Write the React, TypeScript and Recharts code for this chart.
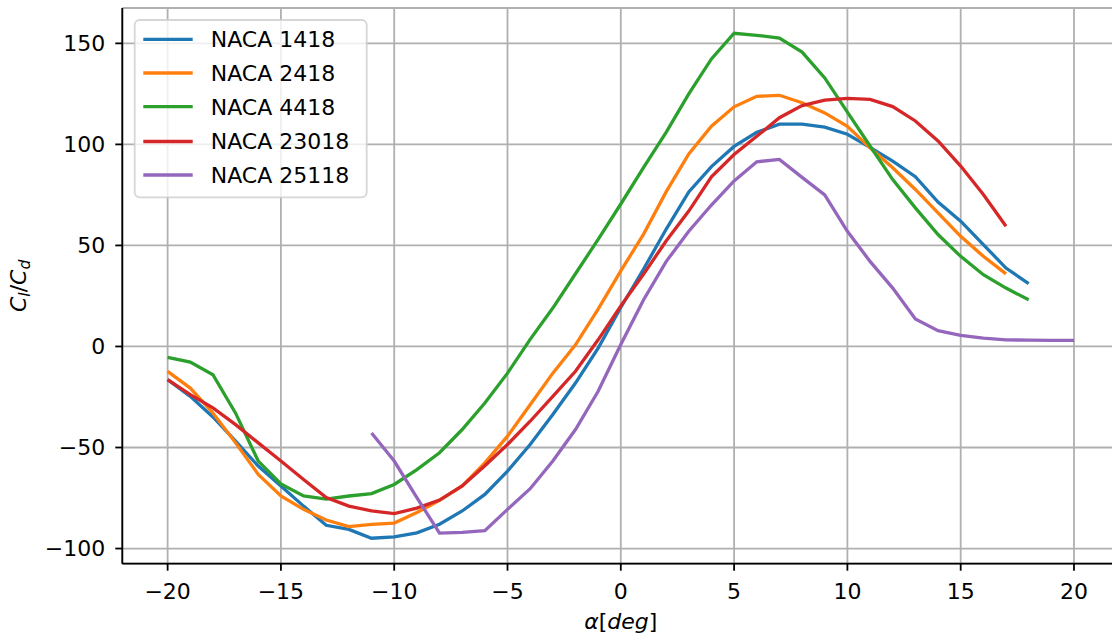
import React from 'react';
import { LineChart, Line, XAxis, YAxis, CartesianGrid } from 'recharts';

const alpha = [-20, -19, -18, -17, -16, -15, -14, -13, -12, -11, -10, -9, -8, -7, -6, -5, -4, -3, -2, -1, 0, 1, 2, 3, 4, 5, 6, 7, 8, 9, 10, 11, 12, 13, 14, 15, 16, 17, 18, 19, 20];

const naca1418 = [-16.4, -24.7, -34.9, -46.9, -59.2, -69.0, -79.0, -88.5, -90.5, -94.9, -94.2, -92.2, -88.0, -81.4, -73.2, -61.7, -48.5, -33.7, -18.1, -0.8, 19.3, 38.2, 58.0, 76.5, 89.0, 99.0, 106.0, 110.0, 110.0, 108.5, 105.0, 98.5, 91.7, 84.0, 71.5, 62.0, 50.4, 38.8, 31.1, null, null];
const naca2418 = [-12.3, -20.6, -32.9, -47.7, -63.3, -74.0, -80.6, -85.9, -89.1, -88.0, -87.4, -82.2, -76.2, -69.0, -57.6, -44.4, -28.8, -13.2, 0.8, 18.5, 37.4, 55.5, 76.5, 95.3, 109.0, 118.6, 123.8, 124.3, 120.6, 115.6, 109.0, 98.3, 88.4, 77.7, 66.1, 54.5, 44.6, 35.9, null, null, null];
const naca4418 = [-5.4, -7.7, -14.0, -33.0, -56.7, -68.0, -74.0, -75.5, -74.0, -72.8, -68.3, -60.9, -52.6, -41.1, -28.0, -13.2, 3.5, 19.0, 36.0, 53.0, 70.5, 88.5, 106.0, 125.0, 142.3, 155.0, 154.0, 152.6, 145.7, 132.9, 116.0, 99.2, 82.6, 68.6, 55.4, 44.6, 35.5, 28.9, 23.1, null, null];
const naca23018 = [-16.4, -23.8, -30.4, -38.7, -47.7, -56.7, -65.8, -74.8, -79.0, -81.4, -82.7, -80.0, -76.0, -69.0, -59.0, -48.5, -37.0, -24.7, -12.3, 3.3, 20.1, 35.7, 52.2, 67.0, 84.0, 95.0, 104.0, 113.2, 119.2, 121.9, 122.8, 122.3, 118.7, 111.6, 101.7, 89.3, 75.2, 59.5, null, null, null];
const naca25118 = [null, null, null, null, null, null, null, null, null, -42.8, -56.7, -74.8, -92.4, -92.0, -91.2, -80.6, -70.4, -56.7, -41.1, -22.2, 1.0, 23.0, 42.0, 57.0, 70.0, 81.9, 91.4, 92.6, 83.7, 75.0, 57.0, 42.1, 28.9, 13.6, 7.8, 5.5, 4.1, 3.3, 3.1, 3.0, 3.0];

const seriesNames = ['NACA 1418', 'NACA 2418', 'NACA 4418', 'NACA 23018', 'NACA 25118'];
const seriesValues = [naca1418, naca2418, naca4418, naca23018, naca25118];
const seriesColors = ['#1f77b4', '#ff7f0e', '#2ca02c', '#d62728', '#9467bd'];

const xTicks = [-20, -15, -10, -5, 0, 5, 10, 15, 20];
const yTicks = [-100, -50, 0, 50, 100, 150];

const data = alpha.map((a, i) => {
  const row: Record<string, number | null> = { alpha: a };
  seriesNames.forEach((n, k) => {
    row[n] = seriesValues[k][i];
  });
  return row;
});

const FONT = 'DejaVu Sans';
const fmt = (v: number) => (v < 0 ? `\u2212${Math.abs(v)}` : `${v}`);

const XLabel = (props: any) => {
  const vb = props.viewBox || {};
  const cx = vb.x + vb.width / 2;
  const y = vb.y + 64.8;
  return (
    <text x={cx} y={y} textAnchor="middle" fontFamily={FONT} fontSize={22} fill="#000">
      <tspan fontStyle="italic">α</tspan>
      <tspan>[</tspan>
      <tspan fontStyle="italic">deg</tspan>
      <tspan>]</tspan>
    </text>
  );
};

const YLabel = (props: any) => {
  const vb = props.viewBox || {};
  const cy = vb.y + vb.height / 2;
  const x = 26;
  return (
    <text
      x={x}
      y={cy}
      transform={`rotate(-90, ${x}, ${cy})`}
      textAnchor="middle"
      fontFamily={FONT}
      fontSize={22}
      fill="#000"
    >
      <tspan fontStyle="italic">C</tspan>
      <tspan fontStyle="italic" fontSize={15.5} dy={4.5}>l</tspan>
      <tspan dy={-4.5}>/</tspan>
      <tspan fontStyle="italic">C</tspan>
      <tspan fontStyle="italic" fontSize={15.5} dy={4.5}>d</tspan>
    </text>
  );
};

const LegendOverlay = () => {
  const left = 134.7;
  const top = 20;
  const w = 232;
  const h = 177.3;
  const rowY = [39.3, 73, 106.7, 141.5, 175];
  return (
    <svg
      width={1112}
      height={642}
      style={{ position: 'absolute', left: 0, top: 0, pointerEvents: 'none' }}
    >
      <rect
        x={left}
        y={top}
        width={w}
        height={h}
        rx={5}
        ry={5}
        fill="#ffffff"
        fillOpacity={0.8}
        stroke="#cccccc"
        strokeOpacity={0.8}
        strokeWidth={1.8}
      />
      {seriesNames.map((n, i) => (
        <g key={n}>
          <line x1={143.3} x2={192.7} y1={rowY[i]} y2={rowY[i]} stroke={seriesColors[i]} strokeWidth={3.3} />
          <text x={210.7} y={rowY[i] + 7.8} fontFamily={FONT} fontSize={22} fill="#000">
            {n}
          </text>
        </g>
      ))}
    </svg>
  );
};

export default function App() {
  return (
    <div
      style={{
        position: 'absolute',
        left: 0,
        top: 0,
        width: 1112,
        height: 642,
        overflow: 'hidden',
        background: '#ffffff',
      }}
    >
      <LineChart
        width={1140}
        height={642}
        data={data}
        margin={{ top: 8, right: 20.7, bottom: 18.3, left: 42.3 }}
      >
        <CartesianGrid stroke="#b0b0b0" strokeWidth={1.8} />
        <XAxis
          dataKey="alpha"
          type="number"
          domain={[-22, 22]}
          ticks={xTicks}
          allowDataOverflow
          tickFormatter={fmt}
          height={60}
          tickSize={7}
          tickMargin={13}
          stroke="#000"
          axisLine={{ stroke: '#000', strokeWidth: 1.8 }}
          tickLine={{ stroke: '#000', strokeWidth: 1.8 }}
          tick={{ fill: '#000', fontSize: 22, fontFamily: FONT }}
          interval={0}
          label={<XLabel />}
        />
        <XAxis
          xAxisId="top"
          orientation="top"
          type="number"
          domain={[-22, 22]}
          ticks={xTicks}
          allowDataOverflow
          height={0}
          tick={false}
          tickLine={false}
          axisLine={{ stroke: '#000', strokeWidth: 1.8 }}
        />
        <YAxis
          type="number"
          domain={[-107.5, 167.5]}
          ticks={yTicks}
          allowDataOverflow
          tickFormatter={fmt}
          width={80}
          tickSize={7}
          tickMargin={10}
          axisLine={{ stroke: '#000', strokeWidth: 1.8 }}
          tickLine={{ stroke: '#000', strokeWidth: 1.8 }}
          tick={{ fill: '#000', fontSize: 22, fontFamily: FONT }}
          interval={0}
          label={<YLabel />}
        />
        {seriesNames.map((n, i) => (
          <Line
            key={n}
            type="linear"
            dataKey={n}
            stroke={seriesColors[i]}
            strokeWidth={3.3}
            dot={false}
            activeDot={false}
            isAnimationActive={false}
            connectNulls={false}
          />
        ))}
      </LineChart>
      <LegendOverlay />
    </div>
  );
}
